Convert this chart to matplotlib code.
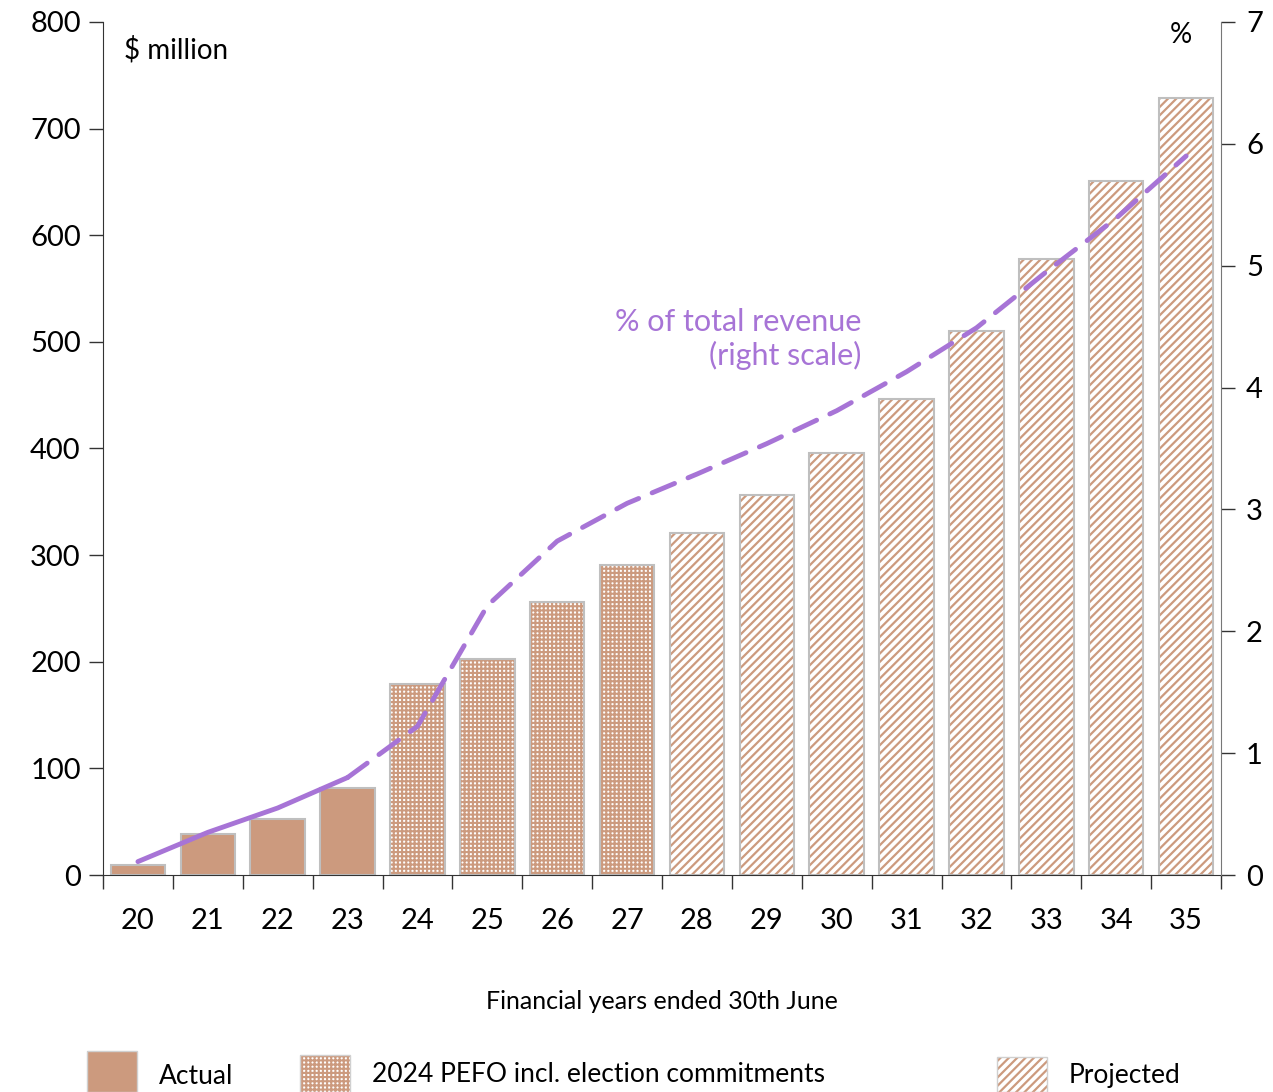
import matplotlib.pyplot as plt
from matplotlib.patches import Rectangle

years = ["20", "21", "22", "23", "24", "25", "26", "27",
         "28", "29", "30", "31", "32", "33", "34", "35"]
spend = [9, 38, 53, 82, 179, 203, 256, 291,
         321, 356, 396, 446, 510, 578, 651, 729]
share = [0.11, 0.35, 0.55, 0.80, 1.22, 2.21, 2.74, 3.05,
         3.29, 3.54, 3.81, 4.13, 4.49, 4.95, 5.39, 5.90]
# 0 = actual, 1 = 2024 PEFO, 2 = projected
kind = [0, 0, 0, 0, 1, 1, 1, 1, 2, 2, 2, 2, 2, 2, 2, 2]

tan = "#CC9A7E"
edge = "#BFBFBF"
purple = "#A774D6"
hatches = {1: "++++", 2: "////"}
hatch_lw = {1: 1.5, 2: 1.6}

plt.rcParams["font.family"] = ["Lato", "DejaVu Sans"]

fig = plt.figure(figsize=(12.73, 10.92), dpi=100)
ax = fig.add_axes([0.0809, 0.1987, 0.8783, 0.7812])
x = list(range(len(years)))

for i in x:
    if kind[i] == 0:
        ax.bar(i, spend[i], width=0.78, color=tan, edgecolor=edge, linewidth=1.5)
    else:
        with plt.rc_context({"hatch.linewidth": hatch_lw[kind[i]]}):
            ax.bar(i, spend[i], width=0.78, color="white", edgecolor=tan,
                   hatch=hatches[kind[i]], linewidth=0)
        ax.bar(i, spend[i], width=0.78, fill=False, edgecolor=edge, linewidth=1.5)

ax.set_xlim(-0.5, len(years) - 0.5)
ax.set_ylim(0, 800)
ax.set_yticks(range(0, 801, 100))
ax.set_xticks(x)
ax.set_xticklabels(years)
ax.set_xticks([i - 0.5 for i in range(len(years) + 1)], minor=True)
ax.tick_params(axis="x", which="major", length=0, pad=24, labelsize=21)
ax.tick_params(axis="x", which="minor", length=10, width=1, color="#333333")
ax.tick_params(axis="y", length=10, width=1, labelsize=21, pad=6, color="#333333")
ax.spines["top"].set_visible(False)
ax.spines["right"].set_visible(False)
for s in ("left", "bottom"):
    ax.spines[s].set_color("#333333")
ax.set_xlabel("Financial years ended 30th June", fontsize=18, labelpad=40)

ax2 = ax.twinx()
ax2.set_ylim(0, 7)
ax2.set_yticks(range(0, 8))
ax2.tick_params(axis="y", length=10, width=1, labelsize=21, pad=8, color="#333333")
ax2.spines["top"].set_visible(False)
ax2.spines["left"].set_visible(False)
ax2.spines["bottom"].set_visible(False)
ax2.spines["right"].set_color("#777777")

ax2.plot(x[:4], share[:4], color=purple, linewidth=3.5, solid_capstyle="round")
ax2.plot(x[3:], share[3:], color=purple, linewidth=3.5, linestyle=(0, (5, 3)),
         dash_capstyle="round")

ax.text(0.019, 0.967, "$ million", transform=ax.transAxes, fontsize=20,
        ha="left", va="center")
ax.text(0.964, 0.985, "%", transform=ax.transAxes, fontsize=20,
        ha="center", va="center")
ax2.text(10.35, 4.4, "% of total revenue\n(right scale)", color=purple,
         fontsize=22, ha="right", va="center", linespacing=1.2)

# legend along the bottom edge
W, H = 1273, 1092
entries = [(87, "Actual", 0, 1051, 1077),
           (300, "2024 PEFO incl. election commitments", 1, 1055, 1075),
           (997, "Projected", 2, 1057, 1075)]
for px, label, k, top, ty in entries:
    box = ((px / W, 0.0), 50 / W, (H - top) / H)
    if k == 0:
        fig.add_artist(Rectangle(*box, transform=fig.transFigure,
                                 facecolor=tan, linewidth=0))
    else:
        with plt.rc_context({"hatch.linewidth": hatch_lw[k]}):
            fig.add_artist(Rectangle(*box, transform=fig.transFigure,
                                     facecolor="white", edgecolor=tan,
                                     hatch=hatches[k], linewidth=0))
    fig.add_artist(Rectangle(*box, transform=fig.transFigure,
                             fill=False, edgecolor="#D0D0D0", linewidth=1))
    fig.text((px + 72) / W, (H - ty) / H, label, fontsize=19, ha="left", va="center")

fig.savefig("out.png", dpi=100)
